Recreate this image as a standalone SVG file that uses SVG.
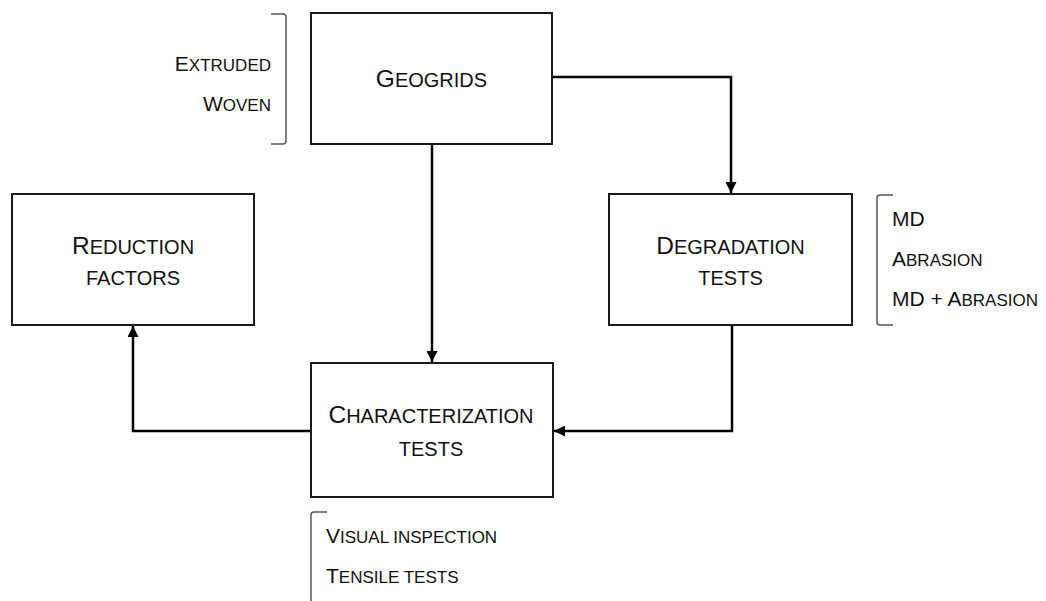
<svg xmlns="http://www.w3.org/2000/svg" width="1046" height="601" viewBox="0 0 1046 601">
<style>
.box{fill:#fff;stroke:#1a1a1a;stroke-width:2}
.t{font-family:"Liberation Sans",Arial,sans-serif;fill:#111;font-size:20px}
.t .b{font-size:24.5px}
.s{font-family:"Liberation Sans",Arial,sans-serif;fill:#111;font-size:17px}
.s .b{font-size:21px}
.br{fill:none;stroke:#555;stroke-width:1.5}
.c{fill:none;stroke:#000;stroke-width:2.5}
</style>
<defs>
<marker id="ah" viewBox="0 0 10 10" refX="10" refY="5" markerWidth="11" markerHeight="11" markerUnits="userSpaceOnUse" orient="auto">
<path d="M0,0 L10,5 L0,10 Z" fill="#000"/>
</marker>
</defs>
<rect width="1046" height="601" fill="#fff"/>
<g id="connectors">
<path class="c" d="M432,144 L432,362" marker-end="url(#ah)"/>
<path class="c" d="M552,77 L731,77 L731,193" marker-end="url(#ah)"/>
<path class="c" d="M732,325 L732,431 L554,431" marker-end="url(#ah)"/>
<path class="c" d="M311,431 L133,431 L133,326" marker-end="url(#ah)"/>
</g>
<g id="geogrids">
<rect class="box" x="311" y="13" width="241" height="131"/>
<text class="t" x="431.5" y="87" text-anchor="middle"><tspan class="b">G</tspan>EOGRIDS</text>
</g>
<g id="geogrid-types">
<path class="br" d="M271,14 L283,14 Q286,14 286,17 L286,141 Q286,144 283,144 L271,144"/>
<text class="s" x="271" y="71" text-anchor="end"><tspan class="b">E</tspan>XTRUDED</text>
<text class="s" x="271" y="111" text-anchor="end"><tspan class="b">W</tspan>OVEN</text>
</g>
<g id="reduction">
<rect class="box" x="12" y="194" width="242" height="131"/>
<text class="t" x="133" y="254" text-anchor="middle"><tspan class="b">R</tspan>EDUCTION</text>
<text class="t" x="133" y="285" text-anchor="middle">FACTORS</text>
</g>
<g id="degradation">
<rect class="box" x="609" y="194" width="243" height="131"/>
<text class="t" x="730.5" y="254" text-anchor="middle"><tspan class="b">D</tspan>EGRADATION</text>
<text class="t" x="730.5" y="285" text-anchor="middle">TESTS</text>
</g>
<g id="degradation-types">
<path class="br" d="M893,195 L880,195 Q877,195 877,198 L877,322 Q877,325 880,325 L893,325"/>
<text class="s" x="892" y="226"><tspan class="b">MD</tspan></text>
<text class="s" x="892" y="266"><tspan class="b">A</tspan>BRASION</text>
<text class="s" x="892" y="306"><tspan class="b">MD + A</tspan>BRASION</text>
</g>
<g id="characterization">
<rect class="box" x="311" y="363" width="242" height="134"/>
<text class="t" x="431" y="423" text-anchor="middle"><tspan class="b">C</tspan>HARACTERIZATION</text>
<text class="t" x="431" y="456" text-anchor="middle">TESTS</text>
</g>
<g id="characterization-types">
<path class="br" d="M327,512 L314,512 Q311,512 311,515 L311,601"/>
<text class="s" x="326" y="543"><tspan class="b">V</tspan>ISUAL INSPECTION</text>
<text class="s" x="326" y="583"><tspan class="b">T</tspan>ENSILE TESTS</text>
</g>
</svg>
